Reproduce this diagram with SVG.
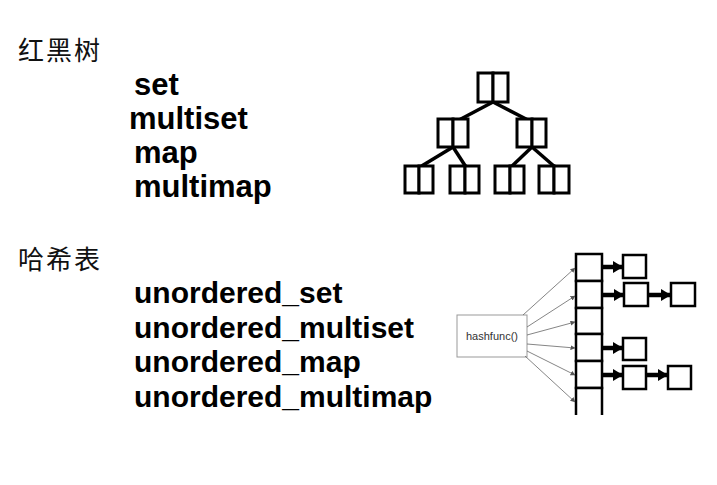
<svg xmlns="http://www.w3.org/2000/svg" width="717" height="485" viewBox="0 0 717 485">
<defs>
<style>
.cjk{font-family:"Noto Sans CJK SC","Noto Sans",sans-serif;font-size:26px;fill:#111;letter-spacing:2px}
.kw{font-family:"Liberation Sans",Arial,sans-serif;font-weight:bold;font-size:30px;fill:#000}
.kw1{font-size:31px}
.tn rect{fill:#fff;stroke:#000;stroke-width:3}
.edge{stroke:#000;stroke-width:3.5;fill:none}
.cell{fill:#fff;stroke:#000;stroke-width:2.5}
.thick{stroke:#000;stroke-width:4.5;fill:none}
.thin{stroke:#666;stroke-width:0.8;fill:none}
.hf{fill:#fff;stroke:#999;stroke-width:1}
.hft{font-family:"Liberation Sans",Arial,sans-serif;font-size:11px;fill:#333}
</style>
<marker id="ah" markerUnits="userSpaceOnUse" markerWidth="10" markerHeight="12" refX="9" refY="6" orient="auto">
<path d="M0,0 L10,6 L0,12 Z" fill="#000"/>
</marker>
<marker id="as" markerUnits="userSpaceOnUse" markerWidth="5" markerHeight="5" refX="4.5" refY="2.5" orient="auto">
<path d="M0,0 L5,2.5 L0,5 Z" fill="#555"/>
</marker>
</defs>
<rect width="717" height="485" fill="#fff"/>

<g id="title-rb"><text class="cjk" x="18" y="60">红黑树</text></g>
<g id="rb-list">
<text class="kw kw1" x="134" y="95">set</text>
<text class="kw kw1" x="129" y="129">multiset</text>
<text class="kw kw1" x="134" y="163">map</text>
<text class="kw kw1" x="134" y="197">multimap</text>
</g>

<g id="title-hash"><text class="cjk" x="18" y="269">哈希表</text></g>
<g id="hash-list">
<text class="kw" x="134" y="303">unordered_set</text>
<text class="kw" x="134" y="338">unordered_multiset</text>
<text class="kw" x="134" y="372">unordered_map</text>
<text class="kw" x="134" y="407">unordered_multimap</text>
</g>

<g id="tree-edges">
<line class="edge" x1="493" y1="102" x2="459" y2="120"/>
<line class="edge" x1="493" y1="102" x2="528" y2="120"/>
<line class="edge" x1="453" y1="147" x2="420" y2="167"/>
<line class="edge" x1="453" y1="147" x2="466" y2="167"/>
<line class="edge" x1="532" y1="147" x2="511" y2="167"/>
<line class="edge" x1="532" y1="147" x2="555" y2="167"/>
</g>
<g id="tree-root" class="tn"><rect x="478" y="73" width="15" height="29"/><rect x="493" y="73" width="15" height="29"/></g>
<g id="tree-l" class="tn"><rect x="438" y="119" width="15" height="28"/><rect x="453" y="119" width="15" height="28"/></g>
<g id="tree-r" class="tn"><rect x="517" y="119" width="15" height="28"/><rect x="532" y="119" width="14" height="28"/></g>
<g id="tree-ll" class="tn"><rect x="405" y="166" width="14" height="27"/><rect x="419" y="166" width="14" height="27"/></g>
<g id="tree-lr" class="tn"><rect x="450" y="166" width="15" height="27"/><rect x="465" y="166" width="14" height="27"/></g>
<g id="tree-rl" class="tn"><rect x="495" y="166" width="15" height="27"/><rect x="510" y="166" width="14" height="27"/></g>
<g id="tree-rr" class="tn"><rect x="539" y="166" width="15" height="27"/><rect x="554" y="166" width="15" height="27"/></g>

<g id="hashfunc"><rect class="hf" x="457" y="315" width="70" height="42"/><text class="hft" x="492" y="340" text-anchor="middle">hashfunc()</text></g>

<g id="buckets">
<rect class="cell" x="576" y="254" width="26" height="27"/>
<rect class="cell" x="576" y="281" width="26" height="27"/>
<rect class="cell" x="576" y="308" width="26" height="26"/>
<rect class="cell" x="576" y="334" width="26" height="27"/>
<rect class="cell" x="576" y="361" width="26" height="27"/>
<path class="cell" d="M576,415 L576,388 L602,388 L602,415"/>
</g>

<g id="n1"><rect class="cell" x="623" y="255" width="23" height="23"/></g>
<g id="n2a"><rect class="cell" x="624" y="283" width="24" height="23"/></g>
<g id="n2b"><rect class="cell" x="671" y="283" width="24" height="23"/></g>
<g id="n4"><rect class="cell" x="623" y="338" width="23" height="22"/></g>
<g id="n5a"><rect class="cell" x="623" y="366" width="23" height="23"/></g>
<g id="n5b"><rect class="cell" x="668" y="366" width="23" height="23"/></g>

<g id="connectors">
<line class="thin" x1="523" y1="315" x2="575" y2="268" marker-end="url(#as)"/>
<line class="thin" x1="527" y1="327" x2="575" y2="296" marker-end="url(#as)"/>
<line class="thin" x1="527" y1="335" x2="575" y2="322" marker-end="url(#as)"/>
<line class="thin" x1="527" y1="344" x2="575" y2="348" marker-end="url(#as)"/>
<line class="thin" x1="527" y1="351" x2="575" y2="375" marker-end="url(#as)"/>
<line class="thin" x1="525" y1="356" x2="575" y2="402" marker-end="url(#as)"/>
<line class="thick" x1="603" y1="267" x2="622" y2="267" marker-end="url(#ah)"/>
<line class="thick" x1="603" y1="295" x2="623" y2="295" marker-end="url(#ah)"/>
<line class="thick" x1="649" y1="295" x2="670" y2="295" marker-end="url(#ah)"/>
<line class="thick" x1="603" y1="348" x2="622" y2="348" marker-end="url(#ah)"/>
<line class="thick" x1="603" y1="375" x2="622" y2="375" marker-end="url(#ah)"/>
<line class="thick" x1="647" y1="375" x2="667" y2="375" marker-end="url(#ah)"/>
</g>
</svg>
